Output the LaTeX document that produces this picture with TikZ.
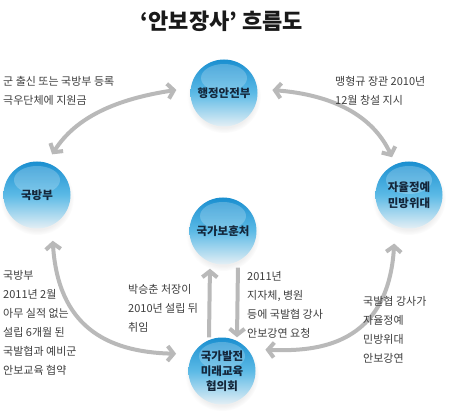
\documentclass[tikz,border=0pt]{standalone}
\usepackage{fontspec}
\setmainfont{Noto Sans CJK KR}
\usetikzlibrary{arrows.meta,shadows}
\definecolor{arcgray}{HTML}{B9B9B9}
\definecolor{txtgray}{HTML}{3E3E3E}
\definecolor{ballA}{HTML}{1A8FD0}
\definecolor{ballB}{HTML}{5CBAE6}
\definecolor{ballC}{HTML}{E4EFF5}
\definecolor{balltxt}{HTML}{14263A}
\begin{document}
\begin{tikzpicture}[x=1pt,y=-1pt,
  ball/.style={circle, minimum size=67pt, inner sep=0pt, align=center,
    top color=ballA, bottom color=ballC, middle color=ballB,
    circular drop shadow={shadow xshift=0pt, shadow yshift=-3pt, opacity=0.12},
    font=\bfseries\fontsize{11.5}{15.5}\selectfont, text=balltxt,
    path picture={\fill[white,opacity=0.22] ([yshift=15pt]path picture bounding box.center) ellipse (23pt and 14pt);}},
  lbl/.style={anchor=north west, inner sep=0pt, align=left, text=txtgray,
    font=\fontsize{11}{19}\selectfont},
  barb/.tip={Straight Barb[length=6pt,width=15pt]},
  arc/.style={draw=arcgray, line width=4pt, barb-barb},
  varr/.style={draw=arcgray, line width=4pt, -barb},
]
\useasboundingbox (0,0) rectangle (449,411);
\fill[white] (0,0) rectangle (449,411);

\node[font=\bfseries\fontsize{22}{25}\selectfont, text=black!90] (title) at (222,21) {‘안보장사’ 흐름도};

\node[ball] (hj) at (224,93) {행정안전부};
\node[ball] (mod) at (37,195) {국방부};
\node[ball] (cd) at (409,195) {자율정예\\민방위대};
\node[ball] (gb) at (223,231) {국가보훈처};
\node[ball, font=\bfseries\fontsize{11.5}{15}\selectfont] (kb) at (222,371) {국가발전\\미래교육\\협의회};

% arcs
\draw[arc, shorten <=10pt, shorten >=14.5pt] (mod.73) .. controls (75.9,116.8) and (117.1,98.9) .. (hj.171);
\draw[arc, shorten <=15pt, shorten >=7.7pt] (hj.7.3) .. controls (331.8,94.7) and (372.6,115) .. (cd.114.7);
\draw[arc, shorten <=15.5pt, shorten >=16.7pt] (mod.296.8) .. controls (58,325) and (105,352) .. (kb.150);
\draw[arc, shorten <=17.8pt, shorten >=18pt] (cd.246.2) .. controls (388,345) and (318,352) .. (kb.41);

% vertical arrows
\draw[varr, shorten >=4pt] ([xshift=-13pt]kb.north) -- ([xshift=-13pt]gb.south);
\draw[varr, shorten <=3pt] ([xshift=15pt]gb.south) -- ([xshift=15pt]kb.north);

% labels
\node[lbl] (t1) at (3,76) {군 출신 또는 국방부 등록\\극우단체에 지원금};
\node[lbl] (t2) at (335,76) {맹형규 장관 2010년\\12월 창설 지시};
\node[lbl] (t3) at (3,270) {국방부\\2011년 2월\\아무 실적 없는\\설립 6개월 된\\국발협과 예비군\\안보교육 협약};
\node[lbl] (t4) at (128,284) {박승춘 처장이\\2010년 설립 뒤\\취임};
\node[lbl] (t5) at (247,271) {2011년\\지자체, 병원\\등에 국발협 강사\\안보강연 요청};
\node[lbl] (t6) at (363,296) {국발협 강사가\\자율정예\\민방위대\\안보강연};
\end{tikzpicture}
\end{document}
